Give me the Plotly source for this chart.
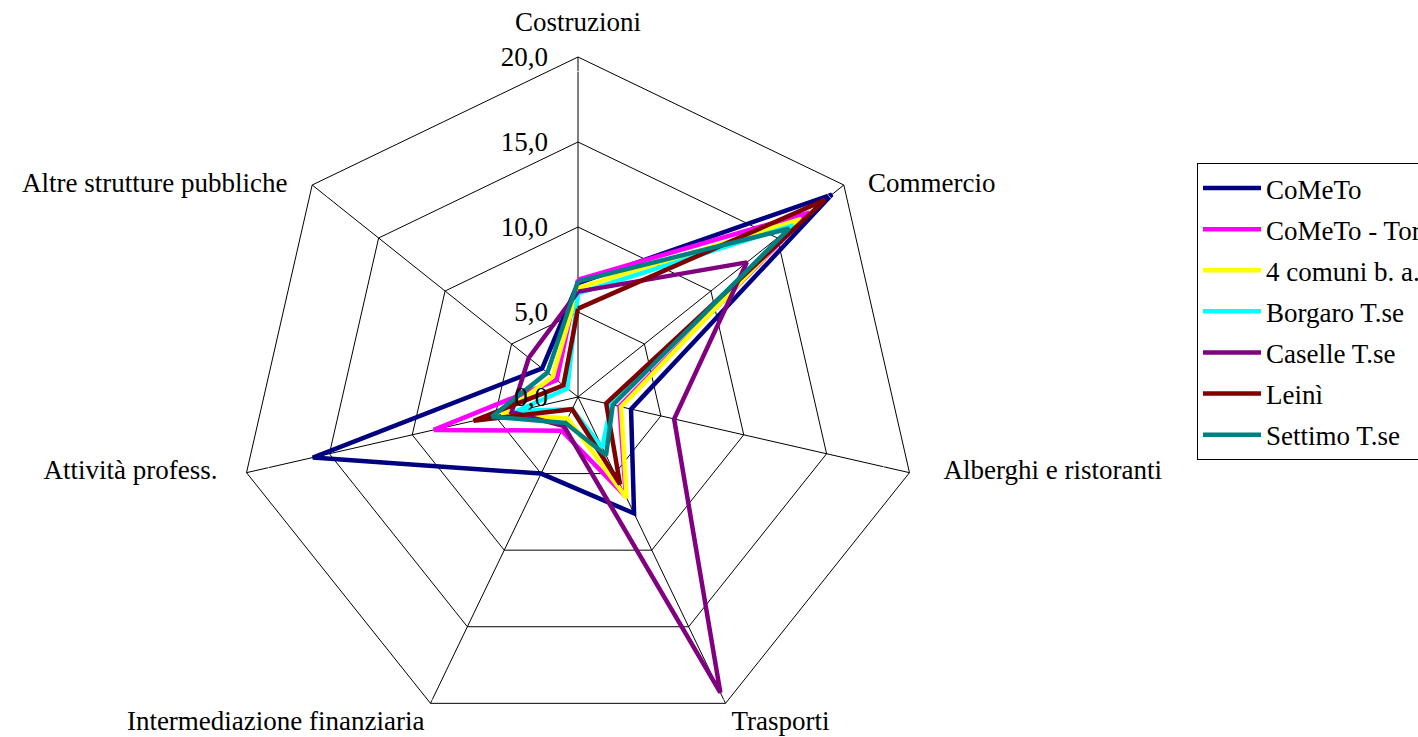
import plotly.graph_objects as go

categories = [
    "Costruzioni",
    "Commercio",
    "Alberghi e ristoranti",
    "Trasporti",
    "Intermediazione finanziaria",
    "Attività profess.",
    "Altre strutture pubbliche",
]

series_names = [
    "CoMeTo",
    "CoMeTo - Torino",
    "4 comuni b. a.",
    "Borgaro T.se",
    "Caselle T.se",
    "Leinì",
    "Settimo T.se",
]

cometo = [6.7, 19.1, 3.2, 7.6, 5.0, 16.0, 2.7]
cometo_torino = [6.9, 17.4, 2.5, 6.5, 2.2, 8.7, 1.6]
quattro_comuni = [6.4, 16.8, 2.6, 6.6, 1.4, 4.6, 1.9]
borgaro = [6.1, 16.2, 2.0, 3.3, 0.8, 3.7, 0.8]
caselle = [6.2, 12.7, 5.8, 19.3, 1.9, 4.0, 3.7]
leini = [5.2, 18.6, 1.7, 5.7, 0.8, 6.3, 1.1]
settimo = [6.8, 15.9, 2.1, 3.8, 1.7, 5.2, 2.3]

series_values = [cometo, cometo_torino, quattro_comuni, borgaro, caselle, leini, settimo]
colors = ["#000080", "#FF00FF", "#FFFF00", "#00FFFF", "#800080", "#800000", "#008080"]

radial_ticks = [0, 5, 10, 15, 20]
r_max = 20

FONT = "Liberation Serif"
FS = 27

fig = go.Figure()
for name, vals, color in zip(series_names, series_values, colors):
    # close the polygon
    fig.add_trace(
        go.Scatterpolar(
            r=vals + vals[:1],
            theta=categories + categories[:1],
            mode="lines",
            name=name,
            legendgroup=name,
            line={"color": color, "width": 4.5},
        )
    )

# category labels at the outer vertices; invisible markers set the text gap
fig.add_trace(
    go.Scatterpolar(
        r=[r_max] * len(categories),
        theta=categories,
        mode="markers+text",
        text=categories,
        textposition=[
            "top center",
            "middle right",
            "middle right",
            "bottom right",
            "bottom left",
            "middle left",
            "middle left",
        ],
        marker={"size": [29, 37, 53, 8, 8, 45, 38], "color": "rgba(0,0,0,0)"},
        textfont={"family": FONT, "size": FS, "color": "black"},
        cliponaxis=False,
        showlegend=False,
        hoverinfo="skip",
    )
)

W, H = 1418, 737
cx, cy, rad = 578, 397, 340

fig.update_layout(
    width=W,
    height=H,
    margin={"l": 0, "r": 0, "t": 0, "b": 0, "autoexpand": False},
    paper_bgcolor="white",
    plot_bgcolor="white",
    separators=",.",
    font={"family": FONT, "size": FS, "color": "black"},
    polar={
        "domain": {
            "x": [(cx - rad) / W, (cx + rad) / W],
            "y": [1 - (cy + rad) / H, 1 - (cy - rad) / H],
        },
        "bgcolor": "white",
        "gridshape": "linear",
        "radialaxis": {
            "range": [0, r_max],
            "tickvals": radial_ticks,
            "tickformat": ".1f",
            "angle": 90,
            "tickangle": 90,
            "side": "counterclockwise",
            "showline": False,
            "gridcolor": "black",
            "gridwidth": 1,
            "ticks": "outside",
            "ticklen": 20,
            "tickcolor": "rgba(0,0,0,0)",
            "tickfont": {"family": FONT, "size": FS},
        },
        "angularaxis": {
            "direction": "clockwise",
            "rotation": 90,
            "showline": True,
            "linecolor": "black",
            "linewidth": 1,
            "gridcolor": "black",
            "gridwidth": 1,
            "ticks": "",
            "showticklabels": False,
        },
    },
    legend={
        "x": 1197 / W,
        "y": 1 - 163 / H,
        "xanchor": "left",
        "yanchor": "top",
        "bordercolor": "black",
        "borderwidth": 1,
        "bgcolor": "white",
        "itemwidth": 58,
        "tracegroupgap": 3,
        "font": {"family": FONT, "size": FS},
    },
)

# drop the default page margin so the figure sits at the window corner
fig.write_html(
    "out.html",
    config={"displayModeBar": False},
    post_script="document.body.style.margin = '0';",
)
